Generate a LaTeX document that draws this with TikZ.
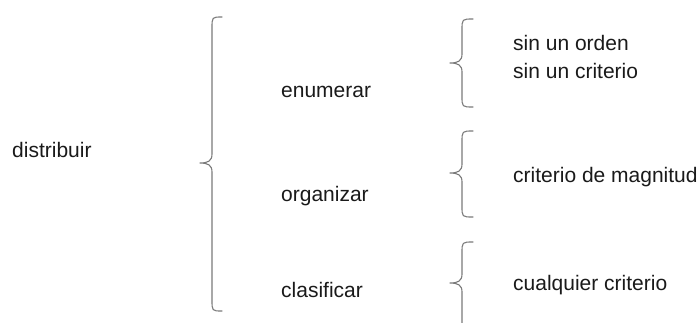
\documentclass[tikz,border=0pt]{standalone}
\usepackage{fontspec}
\setmainfont{Liberation Sans}
\definecolor{txtcol}{HTML}{1A1A1A}
\definecolor{bracecol}{HTML}{7A7A7A}

% curly brace opening to the right:
% #1 stem x, #2 tip x, #3 end x, #4 top y, #5 tip y, #6 bottom y
\newcommand{\drawbrace}[6]{%
  \draw[braceln] (#3,#4) .. controls (#1,#4) and (#1,#4) .. (#1,#4+11)
    -- (#1,#5-9) .. controls (#1,#5-2) and (#1-4,#5) .. (#2,#5)
    .. controls (#1-4,#5) and (#1,#5+2) .. (#1,#5+9)
    -- (#1,#6-11) .. controls (#1,#6) and (#1,#6) .. (#3,#6);}

\begin{document}
\begin{tikzpicture}[x=1pt,y=-1pt,
  lbl/.style={anchor=west,inner sep=0pt,text=txtcol,
    font=\fontsize{21}{25}\selectfont},
  braceln/.style={draw=bracecol,line width=1.1pt,line cap=round,line join=round}]
  \clip (0,0) rectangle (700,322);
  \fill[white] (0,0) rectangle (700,322);

  % root term
  \node[lbl] (dist) at (12,150) {distribuir};

  % main brace
  \drawbrace{212}{200}{222}{17}{163}{311}

  % middle column
  \node[lbl] (enum) at (281,92)  {enumerar};
  \node[lbl] (org)  at (281,196) {organizar};
  \node[lbl] (clas) at (281,290) {clasificar};

  % small braces
  \drawbrace{462}{450}{473}{19}{63}{107}
  \drawbrace{462}{450}{473}{131}{173}{217}
  \draw[braceln] (473,242) .. controls (462,242) and (462,242) .. (462,253)
    -- (462,274) .. controls (462,281) and (458,283) .. (450,283)
    .. controls (458,283) and (462,285) .. (462,292) -- (462,330);

  % right column
  \node[lbl] (orden) at (513,43)  {sin un orden};
  \node[lbl] (crit)  at (513,71)  {sin un criterio};
  \node[lbl] (magn)  at (513,177) {criterio de magnitud};
  \node[lbl] (cual)  at (513,285) {cualquier criterio};
\end{tikzpicture}
\end{document}
